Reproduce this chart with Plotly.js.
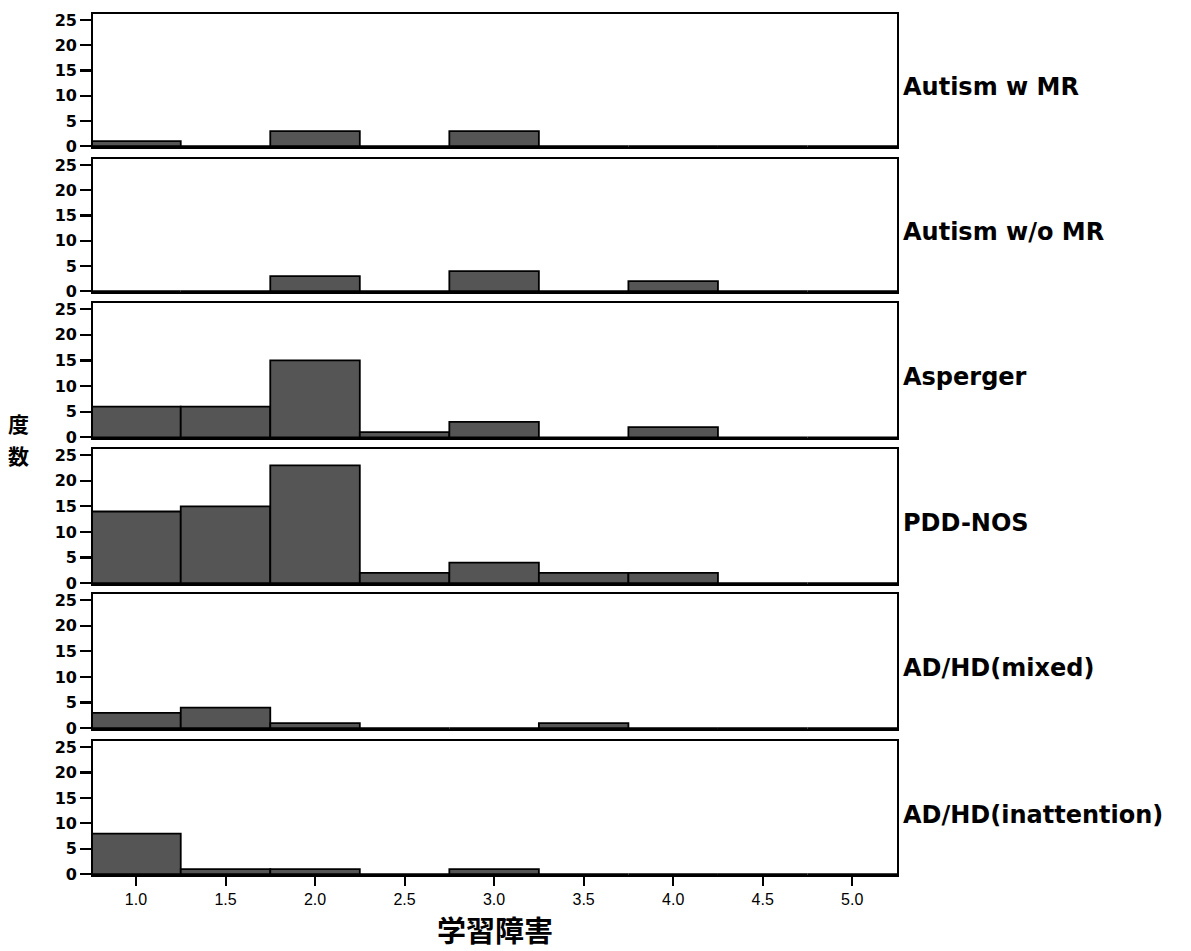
<!DOCTYPE html>
<html>
<head>
<meta charset="utf-8">
<script src="https://cdn.plot.ly/plotly-3.0.1.min.js"></script>
<style>body{margin:0;background:#fff;}#chart{width:1191px;height:951px;}</style>
</head>
<body>
<div id="chart"></div>
<script>
const binCenters = [1.0, 1.5, 2.0, 2.5, 3.0, 3.5, 4.0, 4.5, 5.0];
const groups = ["Autism w MR", "Autism w/o MR", "Asperger", "PDD-NOS", "AD/HD(mixed)", "AD/HD(inattention)"];
const autismWMR      = [1, 0, 3, 0, 3, 0, 0, 0, 0];
const autismWoMR     = [0, 0, 3, 0, 4, 0, 2, 0, 0];
const asperger       = [6, 6, 15, 1, 3, 0, 2, 0, 0];
const pddNos         = [14, 15, 23, 2, 4, 2, 2, 0, 0];
const adhdMixed      = [3, 4, 1, 0, 0, 1, 0, 0, 0];
const adhdInattention= [8, 1, 1, 0, 1, 0, 0, 0, 0];
const xTickVals = [1.0, 1.5, 2.0, 2.5, 3.0, 3.5, 4.0, 4.5, 5.0];
const xTickText = ["1.0", "1.5", "2.0", "2.5", "3.0", "3.5", "4.0", "4.5", "5.0"];
const yTickVals = [0, 5, 10, 15, 20, 25];
const xTitle = "学習障害";
const yTitleChars = ["度", "数"];

const series = [autismWMR, autismWoMR, asperger, pddNos, adhdMixed, adhdInattention];
const domains = [[0.8455, 1.0], [0.6771, 0.8316], [0.5075, 0.6643], [0.3380, 0.4948], [0.1696, 0.3264], [0.0, 0.1556]];

const traces = [];
const layout = {
  width: 1191, height: 951,
  margin: {l: 93, r: 294, t: 14, b: 76},
  paper_bgcolor: "#fff", plot_bgcolor: "#fff",
  showlegend: false,
  bargap: 0,
  annotations: [],
  font: {family: "Liberation Sans, Arial, sans-serif", color: "#000"}
};

series.forEach((vals, i) => {
  const n = i + 1;
  const yKey = "yaxis" + (n === 1 ? "" : n);
  const xKey = "xaxis" + (n === 1 ? "" : n);
  traces.push({
    type: "bar",
    x: binCenters,
    y: vals,
    width: 0.5,
    xaxis: "x" + (n === 1 ? "" : n),
    yaxis: "y" + (n === 1 ? "" : n),
    marker: {color: "#555555", line: {color: "#000", width: 1.8}},
    hoverinfo: "x+y"
  });
  const isBottom = n === series.length;
  layout[xKey] = {
    domain: [0, 1],
    anchor: "y" + (n === 1 ? "" : n),
    range: [0.76, 5.25],
    showgrid: false, zeroline: false,
    showline: true, linecolor: "#000", linewidth: 2, mirror: true,
    ticks: isBottom ? "outside" : "",
    ticklen: 9, tickwidth: 2, tickcolor: "#000",
    tickvals: xTickVals, ticktext: xTickText,
    showticklabels: isBottom,
    tickfont: {size: 16, family: "Liberation Sans, Arial, sans-serif"}
  };
  if (isBottom) {
    layout[xKey].title = {text: xTitle, font: {size: 29, family: "Noto Sans CJK JP", weight: "bold"}, standoff: 8};
  }
  layout[yKey] = {
    domain: domains[i],
    anchor: "x" + (n === 1 ? "" : n),
    range: [-0.15, 26.2],
    showgrid: false, zeroline: false,
    showline: true, linecolor: "#000", linewidth: 1.8, mirror: true,
    ticks: "outside", ticklen: 11, tickwidth: 2.2, tickcolor: "#000",
    tickvals: yTickVals,
    tickfont: {size: 16, family: "DejaVu Sans, sans-serif", weight: "bold"}
  };
  layout.annotations.push({
    xref: "paper", yref: "paper",
    x: 1, y: (domains[i][0] + domains[i][1]) / 2 - 0.008,
    xanchor: "left", yanchor: "middle", xshift: 4,
    text: groups[i], showarrow: false,
    font: {size: 24, family: "DejaVu Sans, sans-serif", weight: "bold", color: "#000"}
  });
});

const yTitleRows = [0.5250, 0.4878];
yTitleChars.forEach((ch, k) => {
  layout.annotations.push({
    xref: "paper", yref: "paper",
    x: 0, y: yTitleRows[k], xanchor: "center", yanchor: "middle", xshift: -75,
    text: ch, showarrow: false, borderpad: 0,
    font: {size: 21, family: "Noto Sans CJK JP", weight: "bold", color: "#000"}
  });
});

Plotly.newPlot("chart", traces, layout, {displayModeBar: false, staticPlot: true});
</script>
</body>
</html>
